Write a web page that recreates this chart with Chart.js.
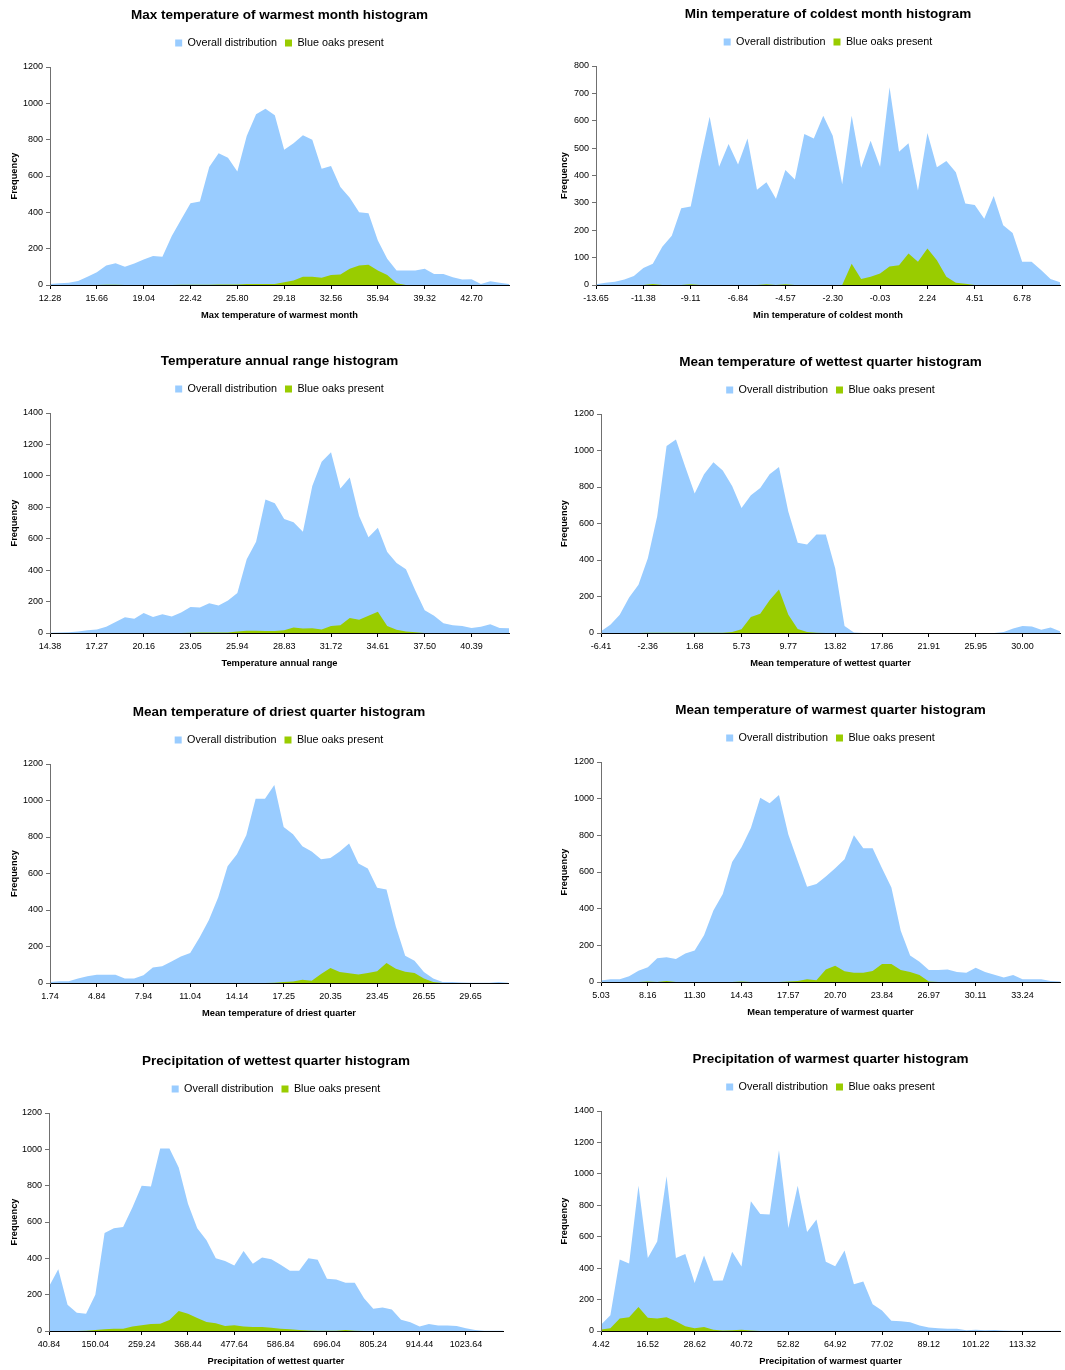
<!DOCTYPE html>
<html>
<head>
<meta charset="utf-8">
<title>Blue oak climate histograms</title>
<script src="https://cdn.jsdelivr.net/npm/chart.js@4.4.1/dist/chart.umd.min.js"></script>
<style>
  html, body { margin: 0; padding: 0; background: #ffffff; }
  #page { position: relative; width: 1065px; height: 1370px; overflow: hidden; background: #ffffff; }
  #page canvas { position: absolute; }
</style>
</head>
<body>
<div id="page"></div>
<script>
// ---- Series names ----
const overallLabel = 'Overall distribution';
const oaksLabel = 'Blue oaks present';

// ---- Max temperature of warmest month ----
const maxTempTicks = ['12.28','15.66','19.04','22.42','25.80','29.18','32.56','35.94','39.32','42.70'];
const maxTempOverall = [5,10,12,22,45,70,108,120,100,118,140,160,155,270,360,450,460,650,725,700,625,820,940,970,935,745,780,825,800,640,655,540,480,400,395,245,145,80,80,80,90,60,60,42,30,32,5,20,12,5];
const maxTempOaks = [0,0,0,0,0,0,2,2,0,0,0,0,0,0,2,2,2,2,3,3,3,5,5,5,5,15,25,45,45,40,55,58,90,108,112,80,55,10,0,0,0,0,0,0,0,0,0,0,0,0];

// ---- Min temperature of coldest month ----
const minTempTicks = ['-13.65','-11.38','-9.11','-6.84','-4.57','-2.30','-0.03','2.24','4.51','6.78'];
const minTempOverall = [3,8,12,20,33,62,78,140,180,280,287,455,615,432,515,440,535,348,375,315,420,385,552,535,618,545,368,618,428,527,432,722,487,518,345,555,430,453,412,298,292,242,325,218,190,85,85,55,22,10];
const minTempOaks = [0,0,0,0,0,0,4,0,0,0,3,0,0,0,0,0,0,0,3,0,3,0,0,0,0,0,0,78,22,30,42,68,72,115,85,133,90,30,8,5,0,0,0,0,0,0,0,0,0,0];

// ---- Temperature annual range ----
const rangeTicks = ['14.38','17.27','20.16','23.05','25.94','28.83','31.72','34.61','37.50','40.39'];
const rangeOverall = [2,3,5,10,18,22,40,70,100,90,128,102,120,105,130,165,162,190,175,207,255,470,580,850,825,725,705,645,935,1090,1150,920,990,745,610,670,515,445,405,270,145,110,62,50,45,32,40,55,32,30];
const rangeOaks = [0,0,0,0,0,0,0,0,0,0,0,0,0,0,0,2,3,3,3,3,10,14,14,12,13,18,35,28,30,22,45,50,95,85,110,135,45,20,10,5,0,0,0,0,0,0,0,0,0,0];

// ---- Mean temperature of wettest quarter ----
const wettestTempTicks = ['-6.41','-2.36','1.68','5.73','9.77','13.82','17.86','21.91','25.95','30.00'];
const wettestTempOverall = [10,45,100,195,265,410,640,1025,1060,910,765,870,935,890,805,685,755,795,870,910,665,495,485,540,540,355,38,3,0,0,0,0,0,0,0,0,0,0,0,0,0,0,0,5,25,38,35,18,30,10];
const wettestTempOaks = [0,0,0,0,0,2,2,2,2,2,2,2,2,2,5,20,88,105,180,238,100,22,5,2,0,0,0,0,0,0,0,0,0,0,0,0,0,0,0,0,0,0,0,0,0,0,0,0,0,0];

// ---- Mean temperature of driest quarter ----
const driestTempTicks = ['1.74','4.84','7.94','11.04','14.14','17.25','20.35','23.45','26.55','29.65'];
const driestTempOverall = [5,10,10,25,37,45,45,45,25,25,42,85,92,118,145,165,250,345,470,640,705,810,1010,1010,1085,855,815,750,720,678,685,720,765,655,628,522,512,310,150,122,60,25,5,5,3,2,2,2,5,2];
const driestTempOaks = [0,0,0,0,0,0,0,0,0,0,0,0,0,0,0,0,0,0,0,0,0,0,0,0,2,5,8,18,12,50,82,60,53,47,55,65,110,78,62,55,25,5,0,0,0,0,0,0,0,0];

// ---- Mean temperature of warmest quarter ----
const warmestTempTicks = ['5.03','8.16','11.30','14.43','17.57','20.70','23.84','26.97','30.11','33.24'];
const warmestTempOverall = [8,15,15,32,62,80,130,135,125,155,172,255,390,480,655,735,840,1005,975,1020,805,660,520,535,575,620,670,800,730,730,620,515,280,145,110,65,65,68,55,50,78,55,40,25,38,15,15,15,5,3];
const warmestTempOaks = [0,0,0,0,0,3,0,5,0,0,0,0,0,0,0,3,0,0,0,0,3,5,15,10,68,88,58,50,50,60,98,98,65,55,38,3,0,0,0,0,0,0,0,0,0,0,0,0,0,0];

// ---- Precipitation of wettest quarter ----
const wettestPrecTicks = ['40.84','150.04','259.24','368.44','477.64','586.84','696.04','805.24','914.44','1023.64'];
const wettestPrecOverall = [245,340,145,100,95,200,540,565,572,680,800,795,1005,1005,900,700,565,500,400,385,360,440,370,405,395,365,332,332,400,392,288,283,265,265,180,122,130,118,62,48,25,38,30,30,28,15,5,2,2,2];
const wettestPrecOaks = [0,0,0,0,2,5,10,12,12,25,32,38,40,60,110,95,72,50,42,28,32,25,22,22,18,12,10,5,3,2,2,2,5,2,0,0,0,0,0,0,0,0,0,0,0,0,0,0,0,0];

// ---- Precipitation of warmest quarter ----
const warmestPrecTicks = ['4.42','16.52','28.62','40.72','52.82','64.92','77.02','89.12','101.22','113.32'];
const warmestPrecOverall = [40,100,455,430,925,465,570,985,465,490,305,480,320,322,505,410,825,745,742,1150,655,925,630,710,440,412,512,298,315,170,130,65,62,55,35,22,18,15,15,5,8,5,6,3,2,2,2,2,2,2];
const warmestPrecOaks = [10,18,80,88,152,85,80,88,62,30,18,25,8,3,5,8,3,0,0,0,0,0,0,0,0,0,0,0,0,0,0,0,0,0,0,0,0,0,0,0,0,0,0,0,0,0,0,0,0,0];

// ---- Styling ----
const BLUE = '#99CCFF';
const GREEN = '#99CC00';
const NONE = 'rgba(0,0,0,0)';
const LABEL_EVERY = 5;           // one tick label per five bins
const HEAD = 67;                 // title + legend band above each plot
const FOOT = 40;                 // tick labels + axis title below each plot
const RIGHT_Y_AXIS = 66;         // y-axis band for the right-hand column

Chart.defaults.font.family = "'Liberation Sans', Arial, Helvetica, sans-serif";
Chart.defaults.color = '#000';

const panels = [
  { title: 'Max temperature of warmest month histogram', axis: 'Max temperature of warmest month',
    ticks: maxTempTicks, overall: maxTempOverall, oaks: maxTempOaks, yMax: 1200, yStep: 200,
    box: { left: 50, right: 511, top: 67, bottom: 285, freqX: 14 } },
  { title: 'Min temperature of coldest month histogram', axis: 'Min temperature of coldest month',
    ticks: minTempTicks, overall: minTempOverall, oaks: minTempOaks, yMax: 800, yStep: 100,
    box: { left: 596, right: 1062, top: 66, bottom: 285, freqX: 564 } },
  { title: 'Temperature annual range histogram', axis: 'Temperature annual range',
    ticks: rangeTicks, overall: rangeOverall, oaks: rangeOaks, yMax: 1400, yStep: 200,
    box: { left: 50, right: 511, top: 413, bottom: 633, freqX: 14 } },
  { title: 'Mean temperature of wettest quarter histogram', axis: 'Mean temperature of wettest quarter',
    ticks: wettestTempTicks, overall: wettestTempOverall, oaks: wettestTempOaks, yMax: 1200, yStep: 200,
    box: { left: 601, right: 1062, top: 414, bottom: 633, freqX: 564 } },
  { title: 'Mean temperature of driest quarter histogram', axis: 'Mean temperature of driest quarter',
    ticks: driestTempTicks, overall: driestTempOverall, oaks: driestTempOaks, yMax: 1200, yStep: 200,
    box: { left: 50, right: 510, top: 764, bottom: 983, freqX: 14 } },
  { title: 'Mean temperature of warmest quarter histogram', axis: 'Mean temperature of warmest quarter',
    ticks: warmestTempTicks, overall: warmestTempOverall, oaks: warmestTempOaks, yMax: 1200, yStep: 200,
    box: { left: 601, right: 1062, top: 762, bottom: 982, freqX: 564 } },
  { title: 'Precipitation of wettest quarter histogram', axis: 'Precipitation of wettest quarter',
    ticks: wettestPrecTicks, overall: wettestPrecOverall, oaks: wettestPrecOaks, yMax: 1200, yStep: 200,
    box: { left: 49, right: 505, top: 1113, bottom: 1331, freqX: 14 } },
  { title: 'Precipitation of warmest quarter histogram', axis: 'Precipitation of warmest quarter',
    ticks: warmestPrecTicks, overall: warmestPrecOverall, oaks: warmestPrecOaks, yMax: 1400, yStep: 200,
    box: { left: 601, right: 1062, top: 1111, bottom: 1331, freqX: 564 } }
];

const page = document.getElementById('page');

function areaDataset(label, values, color) {
  return {
    label, data: values, fill: 'origin', tension: 0,
    backgroundColor: color, borderColor: NONE, borderWidth: 0,
    pointRadius: 0, pointHoverRadius: 0
  };
}

function drawPanel(p) {
  const b = p.box;
  const yAxisW = b.left < 300 ? b.left : RIGHT_Y_AXIS;
  const cLeft = b.left - yAxisW;
  const cTop = b.top - HEAD;
  const w = b.right - cLeft + 2;
  const h = b.bottom - b.top + HEAD + FOOT;

  const canvas = document.createElement('canvas');
  canvas.width = w; canvas.height = h;
  canvas.style.left = cLeft + 'px'; canvas.style.top = cTop + 'px';
  canvas.style.width = w + 'px'; canvas.style.height = h + 'px';
  page.appendChild(canvas);

  const axisTitleFont = { size: 9.3, weight: 'bold' };
  const labels = p.overall.map((_, i) => (i % LABEL_EVERY === 0 ? p.ticks[i / LABEL_EVERY] : ''));

  new Chart(canvas, {
    type: 'line',
    data: {
      labels,
      // oaks first so its area is painted on top of the overall area
      datasets: [areaDataset(oaksLabel, p.oaks, GREEN), areaDataset(overallLabel, p.overall, BLUE)]
    },
    options: {
      responsive: false,
      animation: false,
      devicePixelRatio: 1,
      events: [],
      layout: { padding: { left: 0, right: 2, top: 0, bottom: 0 } },
      plugins: {
        title: {
          display: true, text: p.title, fullSize: false, color: '#000',
          font: { size: 13.5, weight: 'bold' }, padding: { top: 6.9, bottom: 6.5 }
        },
        legend: {
          display: true, reverse: true, fullSize: false,
          labels: { boxWidth: 7, boxHeight: 7, padding: 8, color: '#000', font: { size: 10.8 } }
        },
        subtitle: {
          display: true, text: '', fullSize: false, weight: 500,
          font: { size: 8.6, lineHeight: 1 }, padding: 0
        },
        tooltip: { enabled: false }
      },
      scales: {
        x: {
          type: 'category', offset: false,
          border: { display: true, color: '#000', width: 1, z: 1 },
          grid: {
            drawOnChartArea: false, drawTicks: true, tickLength: 4, z: 1,
            color: (c) => (c.index % LABEL_EVERY === 0 ? '#000' : NONE)
          },
          ticks: { autoSkip: false, maxRotation: 0, minRotation: 0, padding: 4, color: '#000', font: { size: 9 } },
          title: { display: true, text: p.axis, color: '#000', font: axisTitleFont, padding: { top: 0, bottom: 4.4 } },
          afterFit: (s) => { s.height = FOOT; }
        },
        y: {
          min: 0, max: p.yMax,
          border: { display: true, color: '#707070', width: 1, z: 1 },
          grid: { drawOnChartArea: false, drawTicks: true, tickLength: 4, color: '#707070', z: 1 },
          ticks: { stepSize: p.yStep, padding: 3, color: '#000', font: { size: 9 }, callback: (v) => String(v) },
          title: {
            display: true, text: 'Frequency', color: '#000', font: axisTitleFont,
            padding: { top: b.freqX - cLeft - 5.58, bottom: 0 }
          },
          afterFit: (s) => { s.width = yAxisW; }
        }
      }
    }
  });
}

panels.forEach(drawPanel);
</script>
</body>
</html>
